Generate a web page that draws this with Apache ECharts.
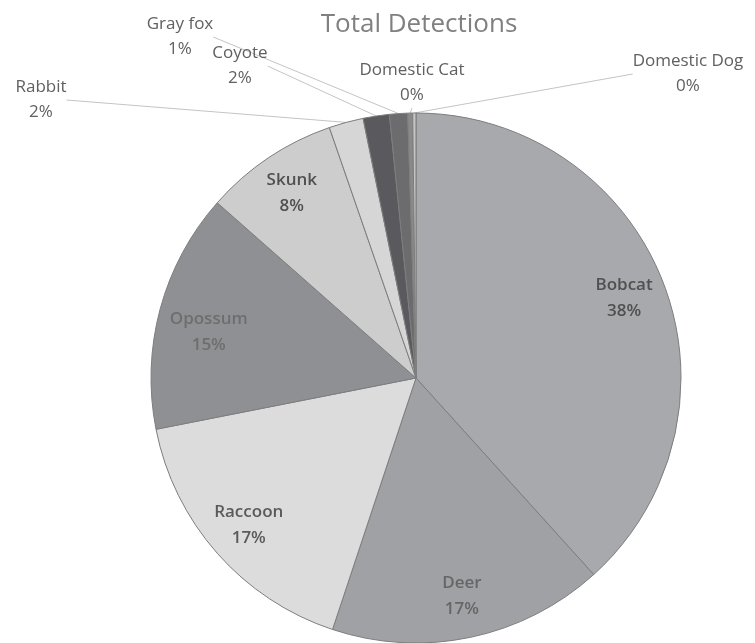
<!DOCTYPE html>
<html>
<head>
<meta charset="utf-8">
<script src="https://cdn.jsdelivr.net/npm/echarts@6/dist/echarts.min.js"></script>
<style>html,body{margin:0;padding:0;background:#fff}#c{width:755px;height:643px}</style>
</head>
<body>
<div id="c"></div>
<script>
// Data
const titleText = 'Total Detections';
const categories = ['Bobcat', 'Deer', 'Raccoon', 'Opossum', 'Skunk', 'Rabbit', 'Coyote', 'Gray fox', 'Domestic Cat', 'Domestic Dog'];
const values = [38.3, 16.8, 16.8, 14.6, 8.2, 2.1, 1.6, 1.1, 0.3, 0.2];
const outsideLabels = ['Rabbit', 'Coyote', 'Gray fox', 'Domestic Cat', 'Domestic Dog'];

// Styles
const colors = ['#a8a9ad', '#a0a1a5', '#dcdcdc', '#8f9093', '#cdcdcd', '#d6d6d6', '#5a5a5e', '#6c6c6e', '#8a8a8a', '#c4c4c4'];
const insideLabelColors = ['#505050', '#666666', '#5a5a5a', '#6e6e6e', '#505050'];
const insideLabelNudge = {'Opossum': [8, 12]};
const outsideLabelPos = {
  'Rabbit': [41, 100],
  'Gray fox': [180, 37],
  'Coyote': [240, 66],
  'Domestic Cat': [412, 83],
  'Domestic Dog': [688, 74]
};
const total = values.reduce((a, b) => a + b, 0);
const pct = v => Math.round(v / total * 100) + '%';
const FONT = '"Open Sans", "Liberation Sans", sans-serif';

const chart = echarts.init(document.getElementById('c'), null, {renderer: 'canvas'});

const baseData = categories.map((name, i) => ({
  name, value: values[i], itemStyle: {color: colors[i]}
}));

const labelData = categories.map((name, i) => {
  const outside = outsideLabels.includes(name);
  return {
    name, value: values[i],
    itemStyle: {color: 'rgba(0,0,0,0)', borderWidth: 0},
    label: outside
      ? {show: true, position: 'outside', color: '#606060', fontWeight: 'normal', fontSize: 17, lineHeight: 25}
      : {show: true, position: 'inside', color: insideLabelColors[i]},
    labelLine: outside ? {show: true, length: 10, length2: 0, lineStyle: {color: '#c4c4c4', width: 1}} : {show: false}
  };
});

chart.setOption({
  animation: false,
  title: {
    text: titleText, left: 414, top: 7, textAlign: 'center',
    textStyle: {color: '#808080', fontSize: 26, fontWeight: 'normal', fontFamily: FONT}
  },
  series: [
    {
      type: 'pie', silent: true, center: [416, 378], radius: [0, 265],
      startAngle: 90, clockwise: true,
      data: baseData,
      label: {show: false}, labelLine: {show: false},
      itemStyle: {borderColor: '#7d7d7d', borderWidth: 1}
    },
    {
      type: 'pie', silent: true, center: [416, 378], radius: [175, 265],
      startAngle: 90, clockwise: true, avoidLabelOverlap: false,
      data: labelData,
      label: {
        formatter: p => p.name + '\n' + pct(p.value),
        fontFamily: FONT, fontSize: 17, fontWeight: 600, color: '#555555', lineHeight: 26, align: 'center'
      },
      labelLayout: function (params) {
        const name = categories[params.dataIndex];
        const pos = outsideLabelPos[name];
        if (pos) return {x: pos[0], y: pos[1], align: 'center', verticalAlign: 'middle'};
        const n = insideLabelNudge[name];
        if (n) return {dx: n[0], dy: n[1]};
        return {};
      }
    }
  ]
});
</script>
</body>
</html>
